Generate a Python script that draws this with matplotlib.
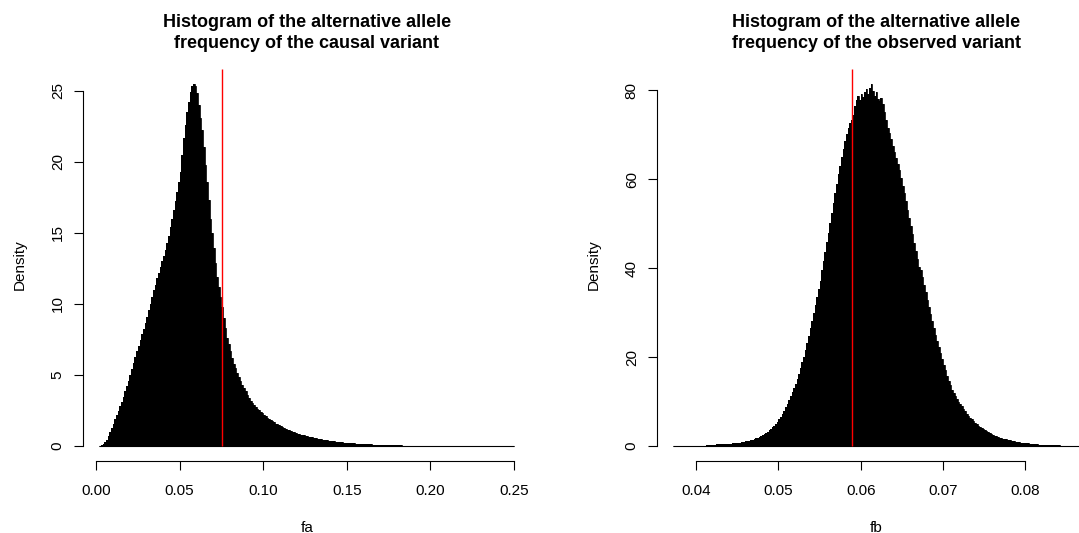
import numpy as np
import matplotlib
matplotlib.use("Agg")
import matplotlib.pyplot as plt

plt.rcParams['font.family'] = ['Liberation Sans', 'DejaVu Sans']

# histogram of fa: breaks start and width, densities
fa_break_start = 0.002
fa_bin_width = 0.001
fa_density = [
    0.02, 0.08, 0.15, 0.25, 0.42, 0.68, 0.95, 1.25, 1.58, 1.88,
    2.15, 2.45, 2.78, 3.12, 3.48, 3.85, 4.2, 4.6, 5.0, 5.4,
    5.85, 6.25, 6.65, 7.05, 7.45, 7.85, 8.25, 8.65, 9.1, 9.55,
    10.0, 10.45, 10.95, 11.35, 11.8, 12.2, 12.6, 13.0, 13.4, 13.8,
    14.25, 14.8, 15.4, 16.0, 16.6, 17.2, 17.85, 18.6, 19.3, 20.5,
    21.7, 22.6, 23.5, 24.2, 24.9, 25.3, 25.5, 25.3, 24.8, 24.0,
    23.1, 22.2, 21.0, 19.8, 18.6, 17.3, 16.0, 15.0, 13.9, 12.9,
    11.9, 11.2, 10.5, 9.8, 9.0, 8.3, 7.6, 7.15, 6.7, 6.2,
    5.8, 5.5, 5.15, 4.85, 4.55, 4.3, 4.05, 3.85, 3.62, 3.4,
    3.2, 3.05, 2.9, 2.75, 2.6, 2.5, 2.4, 2.3, 2.2, 2.1,
    2.0, 1.92, 1.82, 1.74, 1.66, 1.58, 1.52, 1.45, 1.38, 1.32,
    1.26, 1.2, 1.15, 1.1, 1.05, 1.0, 0.96, 0.91, 0.87, 0.83,
    0.8, 0.77, 0.74, 0.71, 0.68, 0.65, 0.62, 0.6, 0.57, 0.55,
    0.52, 0.5, 0.48, 0.45, 0.43, 0.41, 0.39, 0.37, 0.35, 0.33,
    0.32, 0.3, 0.29, 0.27, 0.26, 0.25, 0.24, 0.23, 0.22, 0.21,
    0.2, 0.19, 0.18, 0.17, 0.16, 0.15, 0.15, 0.14, 0.13, 0.12,
    0.12, 0.11, 0.11, 0.10, 0.095, 0.09, 0.085, 0.08, 0.075, 0.07,
    0.066, 0.062, 0.058, 0.055, 0.052, 0.049, 0.046, 0.043, 0.041, 0.038,
    0.036, 0.034, 0.032, 0.030, 0.028, 0.027, 0.025, 0.024, 0.022, 0.021,
    0.02, 0.019, 0.018, 0.017, 0.016, 0.015, 0.014, 0.013, 0.013, 0.012,
    0.011, 0.011, 0.01, 0.009, 0.009, 0.008, 0.008, 0.007, 0.007, 0.007,
    0.006, 0.006, 0.006, 0.005, 0.005, 0.005, 0.004, 0.004, 0.004, 0.004,
    0.003, 0.003, 0.003, 0.003, 0.003, 0.002, 0.002, 0.002, 0.002, 0.002,
    0.002, 0.002, 0.001, 0.001, 0.001, 0.001, 0.001, 0.001, 0.001, 0.001,
    0.001, 0.001, 0.001, 0.0, 0.001, 0.0, 0.0, 0.001,
]
fa_line = 0.0755

# histogram of fb
fb_break_start = 0.0372
fb_bin_width = 0.0002
fb_density = [
    0.01, 0.01, 0.01, 0.02, 0.01, 0.02, 0.02, 0.03, 0.03, 0.03,
    0.04, 0.04, 0.05, 0.05, 0.06, 0.07, 0.08, 0.09, 0.1, 0.11,
    0.2, 0.22, 0.25, 0.28, 0.3, 0.32, 0.34, 0.36, 0.38, 0.4,
    0.42, 0.45, 0.48, 0.5, 0.53, 0.56, 0.6, 0.64, 0.68, 0.72,
    0.77, 0.82, 0.88, 0.95, 1.02, 1.1, 1.2, 1.3, 1.42, 1.55,
    1.7, 1.85, 2.0, 2.2, 2.45, 2.7, 2.95, 3.25, 3.55, 3.85,
    4.2, 4.6, 5.0, 5.5, 6.0, 6.6, 7.2, 7.9, 8.7, 9.5,
    10.3, 11.2, 12.1, 13.0, 14.0, 15.1, 16.3, 17.5, 18.8, 20.1,
    21.6, 23.2, 24.8, 26.5, 28.2, 29.9, 31.6, 33.4, 35.2, 37.0,
    39.5, 41.5, 43.6, 45.8, 48.0, 50.2, 52.4, 54.6, 56.8, 59.0,
    61.2, 63.0, 64.9, 66.8, 68.6, 70.1, 71.5, 72.6, 73.4, 74.5,
    76.4, 77.9, 78.6, 77.8, 79.2, 78.5, 79.7, 80.3, 79.1, 80.6,
    81.5, 79.8, 78.6, 79.7, 78.1, 77.6, 78.3, 76.9, 75.0, 73.3,
    71.5, 70.4, 69.0, 67.4, 66.2, 64.8, 63.3, 62.0, 60.2, 58.5,
    56.8, 55.0, 53.1, 51.3, 49.4, 47.6, 45.7, 43.9, 42.0, 40.2,
    39.6, 38.0, 36.3, 34.6, 32.9, 31.3, 29.7, 28.1, 26.5, 25.0,
    23.6, 22.2, 20.8, 19.5, 18.2, 17.0, 15.8, 14.7, 13.7, 12.7,
    12.0, 11.3, 10.6, 10.0, 9.4, 8.9, 8.3, 7.8, 7.3, 6.8,
    6.4, 6.0, 5.6, 5.2, 4.9, 4.6, 4.3, 4.0, 3.75, 3.5,
    3.3, 3.1, 2.9, 2.7, 2.5, 2.35, 2.2, 2.05, 1.9, 1.8,
    1.68, 1.57, 1.47, 1.37, 1.28, 1.2, 1.12, 1.04, 0.97, 0.9,
    0.84, 0.78, 0.72, 0.67, 0.62, 0.57, 0.53, 0.49, 0.45, 0.42,
    0.39, 0.36, 0.33, 0.3, 0.28, 0.26, 0.24, 0.22, 0.2, 0.18,
    0.17, 0.15, 0.14, 0.13, 0.12, 0.11, 0.1, 0.09, 0.08, 0.07,
    0.07, 0.06, 0.06, 0.05, 0.05, 0.04, 0.04,
]
fb_line = 0.059

fa_xticks = [0.00, 0.05, 0.10, 0.15, 0.20, 0.25]
fa_yticks = [0, 5, 10, 15, 20, 25]
fb_xticks = [0.04, 0.05, 0.06, 0.07, 0.08]
fb_yticks = [0, 20, 40, 60, 80]

fa_title = ["Histogram of the alternative allele", "frequency of the causal variant"]
fb_title = ["Histogram of the alternative allele", "frequency of the observed variant"]

W, H = 1079, 533
fig = plt.figure(figsize=(W / 100, H / 100), dpi=100)


def r_hist(rect, start, width, dens, vline, xticks, yticks, xfmt, title, xlab):
    # rect given in pixels: left, top, width, height
    left, top, w, h = rect
    ax = fig.add_axes([left / W, (H - top - h) / H, w / W, h / H])
    dens = np.array(dens)
    edges = start + width * np.arange(len(dens) + 1)
    ax.stairs(dens, edges, fill=True, color='black', linewidth=0)
    ax.stairs(dens, edges, color='black', linewidth=0.6)
    ax.hlines(0, edges[0], edges[-1], color='black', linewidth=0.8)

    # R style 4% extension
    r = edges[-1] - edges[0]
    ax.set_xlim(edges[0] - 0.04 * r, edges[-1] + 0.04 * r)
    ytop = dens.max() * 1.04
    ax.set_ylim(-0.04 * dens.max(), ytop)
    ax.vlines(vline, 0, ytop, color='red', linewidth=1.0)

    for s in ['top', 'right']:
        ax.spines[s].set_visible(False)
    ax.spines['left'].set_bounds(yticks[0], yticks[-1])
    ax.spines['bottom'].set_bounds(xticks[0], xticks[-1])
    for s in ['left', 'bottom']:
        ax.spines[s].set_linewidth(0.8)

    ax.set_xticks(xticks)
    ax.set_xticklabels([xfmt % t for t in xticks], fontsize=11, va='baseline')
    ax.set_yticks(yticks)
    ax.set_yticklabels([str(t) for t in yticks], fontsize=11, rotation=90,
                       rotation_mode='anchor', ha='center', va='baseline')
    ax.tick_params(axis='x', length=6.8, width=0.8, pad=18)
    ax.tick_params(axis='y', length=6.8, width=0.8, pad=8.3)

    cx = (left + w / 2) / W
    fig.text(cx, (H - 26.7) / H, title[0], ha='center', va='baseline',
             fontsize=13, fontweight='bold')
    fig.text(cx, (H - 48.5) / H, title[1], ha='center', va='baseline',
             fontsize=13, fontweight='bold')
    fig.text(cx, (H - 531.5) / H, xlab, ha='center', va='baseline', fontsize=11)
    fig.text((left - 58.8) / W, (H - top - h / 2) / H, 'Density', rotation=90,
             rotation_mode='anchor', ha='center', va='baseline', fontsize=11)
    return ax


r_hist((82.8, 69, 447.8, 391.5), fa_break_start, fa_bin_width, fa_density, fa_line,
       fa_xticks, fa_yticks, '%.2f', fa_title, 'fa')
r_hist((656.8, 69, 439.1, 391.5), fb_break_start, fb_bin_width, fb_density, fb_line,
       fb_xticks, fb_yticks, '%.2f', fb_title, 'fb')

fig.savefig('out.png', dpi=100)
